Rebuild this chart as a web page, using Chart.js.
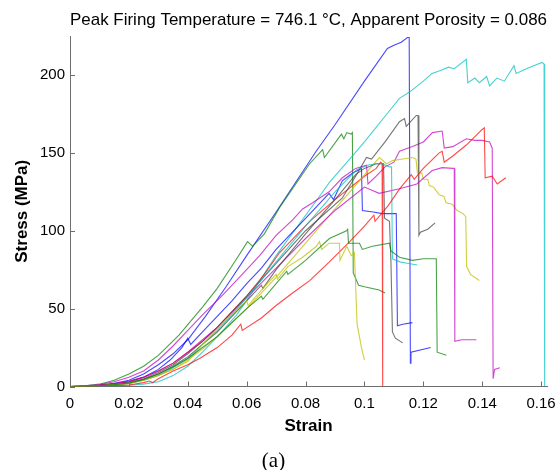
<!DOCTYPE html>
<html>
<head>
<meta charset="utf-8">
<script src="https://cdn.jsdelivr.net/npm/chart.js@4.4.1/dist/chart.umd.min.js"></script>
<style>
  html, body { margin: 0; padding: 0; background: #fff; }
  canvas { display: block; }
</style>
</head>
<body>
<canvas id="stressChart" width="558" height="470"></canvas>
<script>
// Axis ticks
const strainTicks = [0, 0.02, 0.04, 0.06, 0.08, 0.1, 0.12, 0.14, 0.16];
const stressTicks = [0, 50, 100, 150, 200];

// Stress-strain curves, [strain, stress (MPa)]
const blueA = [[0,0],[0.005,0.2],[0.01,0.8],[0.015,2],[0.02,4],[0.025,8],[0.03,14],[0.035,21],[0.04,30],[0.046,45],[0.053,64],[0.06,84],[0.07,112],[0.0836,151],[0.09,168],[0.1,196],[0.1078,217],[0.11,219],[0.1125,221],[0.1146,224],[0.1152,224],[0.1156,15],[0.1158,22],[0.1225,25]];
const blueB = [[0,0],[0.005,0.2],[0.01,0.7],[0.015,1.6],[0.02,3],[0.025,6],[0.03,11],[0.034,17],[0.038,25],[0.04,31],[0.041,27],[0.045,35],[0.05,45],[0.055,55],[0.06,66],[0.065,76],[0.07,88],[0.08,108],[0.088,124],[0.0895,120],[0.0925,132],[0.096,137],[0.099,140],[0.0993,113],[0.103,112],[0.106,111],[0.1108,111],[0.1112,39],[0.113,40],[0.1163,41]];
const greenA = [[0,0],[0.005,0.4],[0.01,1.5],[0.015,4],[0.02,8],[0.025,13],[0.03,20],[0.037,33],[0.045,51],[0.05,63],[0.0566,82],[0.0603,93],[0.062,90],[0.066,98],[0.0712,115],[0.0814,143],[0.0858,152],[0.0864,147],[0.0922,162],[0.093,159],[0.094,163],[0.0955,162],[0.0959,163],[0.0962,73],[0.098,65],[0.1,64],[0.105,62],[0.107,60]];
const greenB = [[0,0],[0.005,0.2],[0.01,0.5],[0.015,1.2],[0.02,2.2],[0.025,4.5],[0.03,8],[0.035,12.5],[0.04,18],[0.045,25],[0.05,32],[0.055,41],[0.06,50],[0.065,58],[0.0655,56],[0.07,66],[0.0736,74],[0.074,72],[0.08,81],[0.0881,95],[0.0939,100],[0.0943,101],[0.0946,92],[0.0983,92],[0.0993,88],[0.1027,90],[0.1085,92],[0.109,87],[0.1119,83],[0.1163,81],[0.12,82],[0.1244,82],[0.1247,22],[0.1278,20]];
const cyanA = [[0,0],[0.01,0.2],[0.02,0.8],[0.025,1.5],[0.03,3],[0.035,7],[0.04,13],[0.045,22],[0.051,34],[0.0566,46],[0.061,58],[0.07,84],[0.0847,122],[0.0881,131],[0.095,146],[0.1,157],[0.1085,177],[0.1119,185],[0.1153,189],[0.12,196],[0.123,201],[0.126,203],[0.1285,205],[0.1305,204],[0.1346,210],[0.1351,195],[0.1375,198],[0.139,195],[0.1415,199],[0.1425,193],[0.145,198],[0.1475,196],[0.1508,206],[0.1515,201],[0.155,204],[0.1603,208],[0.161,207],[0.1612,0]];
const cyanB = [[0,0],[0.005,0.1],[0.01,0.4],[0.015,1],[0.02,2],[0.025,4],[0.03,7],[0.035,12],[0.04,18],[0.045,27],[0.05,36],[0.055,46],[0.06,57],[0.07,80],[0.08,103],[0.09,125],[0.0973,139],[0.101,142],[0.104,143],[0.106,143],[0.1085,141],[0.1092,141],[0.1095,82],[0.112,80],[0.115,79],[0.118,78]];
const grayA = [[0,0],[0.005,0.2],[0.01,0.6],[0.015,1.4],[0.02,2.5],[0.025,5],[0.03,9],[0.035,14],[0.04,21],[0.045,29],[0.05,38],[0.055,48],[0.06,58],[0.07,79],[0.08,100],[0.0925,121],[0.097,135],[0.1007,147],[0.1024,146],[0.107,157],[0.1119,170],[0.1136,172],[0.1142,167],[0.1176,174],[0.1182,174],[0.1185,97],[0.119,99],[0.1215,101],[0.124,105]];
const grayB = [[0,0],[0.005,0.15],[0.01,0.5],[0.015,1.1],[0.02,2],[0.025,4.5],[0.03,8],[0.035,13],[0.04,19],[0.045,27],[0.05,35],[0.06,55],[0.065,65],[0.0655,63],[0.07,75],[0.08,98],[0.09,120],[0.097,136],[0.1,140],[0.104,143],[0.1065,143],[0.1068,108],[0.1085,106],[0.109,80],[0.1095,35],[0.1105,31],[0.113,28]];
const magentaA = [[0,0],[0.005,0.4],[0.01,1.2],[0.015,3],[0.02,6],[0.025,10],[0.03,17],[0.035,26],[0.04,36],[0.045,46],[0.052,59],[0.058,71],[0.0644,84],[0.07,97],[0.0756,107],[0.079,114],[0.0824,118],[0.088,125],[0.0925,134],[0.097,140],[0.1007,142],[0.1012,130],[0.104,135],[0.107,141],[0.11,144],[0.1119,151],[0.1163,154],[0.12,157],[0.1231,163],[0.1264,164],[0.1271,153],[0.13,154],[0.1346,159],[0.1375,158],[0.14,158],[0.1425,157],[0.1434,153],[0.1437,5],[0.1442,11],[0.146,12]];
const magentaB = [[0,0],[0.005,0.2],[0.01,0.8],[0.015,1.8],[0.02,3.5],[0.025,6],[0.03,10],[0.035,15],[0.04,22],[0.045,30],[0.05,38],[0.06,57],[0.07,76],[0.08,95],[0.09,113],[0.1,128],[0.105,124],[0.1119,127],[0.1178,130],[0.123,138.6],[0.1264,140.5],[0.13,140],[0.1305,140],[0.1307,29],[0.133,30],[0.138,30]];
const redA = [[0,0],[0.01,0.3],[0.015,0.6],[0.02,1],[0.025,2.5],[0.027,3.5],[0.028,2.5],[0.03,5],[0.035,10],[0.04,14],[0.044,18],[0.05,25],[0.055,33],[0.058,40],[0.0585,36],[0.065,44],[0.07,52],[0.0756,60],[0.0814,68],[0.0881,80],[0.095,93],[0.1,103],[0.1032,110],[0.1036,106],[0.108,116],[0.112,127],[0.1159,136],[0.1169,133],[0.12,140],[0.1227,145],[0.1254,150],[0.1264,151],[0.1271,144],[0.13,148],[0.1346,155],[0.14,165],[0.1407,166],[0.141,134],[0.1434,135],[0.1451,130],[0.148,134]];
const redB = [[0,0],[0.005,0.3],[0.01,0.8],[0.015,1.8],[0.02,3],[0.025,6],[0.03,10],[0.035,15],[0.04,22],[0.045,29],[0.05,38],[0.06,58],[0.066,72],[0.0712,86],[0.0814,106],[0.09,120],[0.1,135],[0.104,140],[0.1055,144],[0.106,143],[0.1062,0]];
const yellowA = [[0,0],[0.005,0.2],[0.01,0.5],[0.015,1.2],[0.02,2],[0.025,4],[0.03,7],[0.035,11],[0.04,17],[0.045,24],[0.05,32],[0.06,50],[0.07,70],[0.08,92],[0.09,114],[0.0983,132],[0.1027,142],[0.1051,147],[0.1075,143],[0.1095,145],[0.113,146],[0.1163,147],[0.1175,146],[0.118,137],[0.1195,137],[0.12,133],[0.1215,133],[0.122,129],[0.1235,128],[0.1254,123],[0.127,122],[0.1277,118],[0.1298,117],[0.1315,113],[0.1335,111],[0.1344,109],[0.1347,77],[0.136,72],[0.139,68]];
const yellowB = [[0,0],[0.005,0.2],[0.01,0.5],[0.015,1.2],[0.02,2],[0.025,4],[0.03,7],[0.035,11],[0.04,16],[0.045,27],[0.053,43],[0.06,55],[0.0605,52],[0.066,64],[0.07,72],[0.0705,69],[0.074,77],[0.079,83],[0.0837,90],[0.0847,93],[0.0855,88],[0.088,92],[0.0915,92],[0.0917,81],[0.094,90],[0.0955,84],[0.0966,86],[0.0975,40],[0.099,25],[0.1,17]];

const curves = [
  { data: greenB, color: 'rgba(0,128,0,0.72)' },
  { data: yellowB, color: 'rgba(191,191,0,0.75)' },
  { data: redA, color: 'rgba(255,0,0,0.72)' },
  { data: cyanB, color: 'rgba(0,191,191,0.72)' },
  { data: grayB, color: 'rgba(64,64,64,0.72)' },
  { data: magentaB, color: 'rgba(191,0,191,0.72)' },
  { data: yellowA, color: 'rgba(191,191,0,0.75)' },
  { data: grayA, color: 'rgba(64,64,64,0.72)' },
  { data: redB, color: 'rgba(255,0,0,0.72)' },
  { data: magentaA, color: 'rgba(191,0,191,0.72)' },
  { data: blueB, color: 'rgba(0,0,255,0.72)' },
  { data: cyanA, color: 'rgba(0,191,191,0.72)' },
  { data: greenA, color: 'rgba(0,128,0,0.72)' },
  { data: blueA, color: 'rgba(0,0,255,0.72)' }
];

// MATLAB-style tick marks pointing into the plot
const inwardTicks = {
  id: 'inwardTicks',
  afterDatasetsDraw(chart) {
    const { ctx, chartArea, scales } = chart;
    ctx.save();
    ctx.strokeStyle = '#6e6e6e';
    ctx.lineWidth = 1;
    ctx.beginPath();
    strainTicks.forEach(v => {
      const x = Math.round(scales.x.getPixelForValue(v)) + 0.5;
      ctx.moveTo(x, chartArea.bottom);
      ctx.lineTo(x, chartArea.bottom - 5);
    });
    stressTicks.forEach(v => {
      const y = Math.round(scales.y.getPixelForValue(v)) + 0.5;
      ctx.moveTo(chartArea.left, y);
      ctx.lineTo(chartArea.left + 5, y);
    });
    ctx.stroke();
    ctx.restore();
  }
};

const FONT = "Arial, 'Liberation Sans', sans-serif";

new Chart(document.getElementById('stressChart'), {
  type: 'line',
  data: {
    datasets: curves.map(c => ({
      data: c.data,
      borderColor: c.color,
      borderWidth: 1.1,
      pointRadius: 0,
      tension: 0,
      fill: false
    }))
  },
  options: {
    responsive: false,
    animation: false,
    devicePixelRatio: 1,
    layout: { padding: { left: 0, right: 11, top: 0, bottom: 0 } },
    plugins: {
      legend: { display: false },
      tooltip: { enabled: false },
      title: {
        display: true,
        text: 'Peak Firing Temperature = 746.1 \u00B0C, Apparent Porosity = 0.086',
        color: '#000',
        fullSize: false,
        font: { family: FONT, size: 17, weight: 'normal' },
        padding: { top: 10, bottom: 5.6 }
      },
      subtitle: {
        display: true,
        position: 'bottom',
        text: '(a)',
        color: '#000',
        font: { family: "'Times New Roman', 'Liberation Serif', serif", size: 21, weight: 'normal', lineHeight: 0.8 },
        padding: { top: 0, bottom: 0 }
      }
    },
    scales: {
      x: {
        type: 'linear',
        min: 0,
        max: 0.162,
        afterBuildTicks: s => { s.ticks = strainTicks.map(v => ({ value: v })); },
        afterFit: s => { s.height = 66.7; s.paddingLeft = 0; s.paddingRight = 0; },
        grid: { display: false, drawTicks: false },
        border: { display: true, color: '#6e6e6e', width: 1 },
        ticks: {
          color: '#000',
          padding: 8.5,
          maxRotation: 0,
          autoSkip: false,
          font: { family: FONT, size: 15 },
          callback: v => String(v)
        },
        title: {
          display: true,
          text: 'Strain',
          color: '#000',
          font: { family: FONT, size: 17, weight: 'bold' },
          padding: { top: 0, bottom: 17 }
        }
      },
      y: {
        type: 'linear',
        min: 0,
        max: 225,
        afterBuildTicks: s => { s.ticks = stressTicks.map(v => ({ value: v })); },
        afterFit: s => { s.width = 70; s.paddingTop = 0; s.paddingBottom = 0; },
        grid: { display: false, drawTicks: false },
        border: { display: true, color: '#6e6e6e', width: 1 },
        ticks: {
          color: '#000',
          padding: 5,
          autoSkip: false,
          font: { family: FONT, size: 15 },
          callback: v => String(v)
        },
        title: {
          display: true,
          text: 'Stress (MPa)',
          color: '#000',
          font: { family: FONT, size: 17, weight: 'bold' },
          padding: { top: 12, bottom: 0 }
        }
      }
    }
  },
  plugins: [inwardTicks]
});
</script>
</body>
</html>
